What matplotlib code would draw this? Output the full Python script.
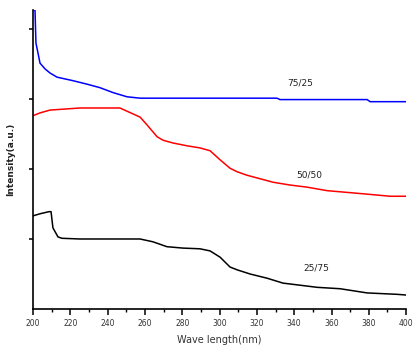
import numpy as np
import matplotlib
matplotlib.use('Agg')
import matplotlib.pyplot as plt

# spectra of the three blends (wavelength in nm, intensity in arbitrary units)
wl_7525 = [200, 201.1, 201.6, 203.8, 206.4, 209.1, 212.9, 221.4, 229.0, 235.9, 242.9,
           250.4, 257.4, 330.8, 332.4, 379.1, 380.7, 400]
int_7525 = [4.27, 4.27, 3.80, 3.51, 3.43, 3.37, 3.31, 3.26, 3.21, 3.16, 3.09,
            3.03, 3.01, 3.01, 2.99, 2.99, 2.96, 2.96]

wl_5050 = [200, 203.8, 209.1, 225.2, 246.6, 257.4, 261.1, 266.5, 269.7, 275.1, 282.6,
           289.5, 294.9, 300.3, 305.6, 309.4, 314.7, 321.7, 328.7, 337.8, 346.9,
           357.6, 366.2, 379.1, 391.4, 400]
int_5050 = [2.76, 2.80, 2.84, 2.87, 2.87, 2.74, 2.63, 2.46, 2.41, 2.37, 2.33,
            2.30, 2.26, 2.13, 2.01, 1.96, 1.91, 1.86, 1.81, 1.77, 1.74,
            1.69, 1.67, 1.64, 1.61, 1.61]

wl_2575 = [200, 203.8, 208.6, 209.7, 210.7, 213.4, 215.5, 225.2, 257.4, 264.3, 271.8,
           280.4, 289.5, 294.9, 300.3, 305.6, 309.4, 316.4, 325.5, 334.0, 343.2,
           352.3, 364.6, 379.1, 395.2, 400]
int_2575 = [1.33, 1.36, 1.39, 1.39, 1.16, 1.03, 1.01, 1.00, 1.00, 0.96, 0.89,
            0.87, 0.86, 0.83, 0.74, 0.60, 0.56, 0.50, 0.44, 0.37, 0.34,
            0.31, 0.29, 0.23, 0.21, 0.20]

labels = ['75/25', '50/50', '25/75']
label_pos = [(343, 3.23), (348, 1.91), (352, 0.58)]

fig = plt.figure(figsize=(4.17, 3.54), dpi=100)
ax = fig.add_axes([0.079, 0.127, 0.895, 0.845])

ax.plot(wl_7525, int_7525, color='#0000ff', lw=1.1)
ax.plot(wl_5050, int_5050, color='#ff0000', lw=1.1)
ax.plot(wl_2575, int_2575, color='black', lw=1.1)

for txt, (x, y) in zip(labels, label_pos):
    ax.text(x, y, txt, fontsize=6.5, ha='center', va='center', color='#222222')

ax.set_xlim(200, 400)
ax.set_ylim(0, 4.27)
ax.set_xticks(np.arange(200, 401, 20))
ax.set_xticks(np.arange(200, 401, 10), minor=True)
ax.set_yticks([1, 2, 3, 4])
ax.set_yticklabels([])

ax.spines['top'].set_visible(False)
ax.spines['right'].set_visible(False)
for s in ('left', 'bottom'):
    ax.spines[s].set_linewidth(1.2)

ax.tick_params(axis='x', which='major', direction='out', length=4, width=1.1,
               labelsize=5.5, pad=3, labelcolor='#333333')
ax.tick_params(axis='x', which='minor', direction='out', length=2.5, width=1.0)
ax.tick_params(axis='y', direction='out', length=3, width=1.1)

ax.set_xlabel('Wave length(nm)', fontsize=7, labelpad=5, color='#333333')
ax.set_ylabel('Intensity(a.u.)', fontsize=6.5, labelpad=6, color='#222222', fontweight='bold')

fig.savefig('out.png', dpi=100)
